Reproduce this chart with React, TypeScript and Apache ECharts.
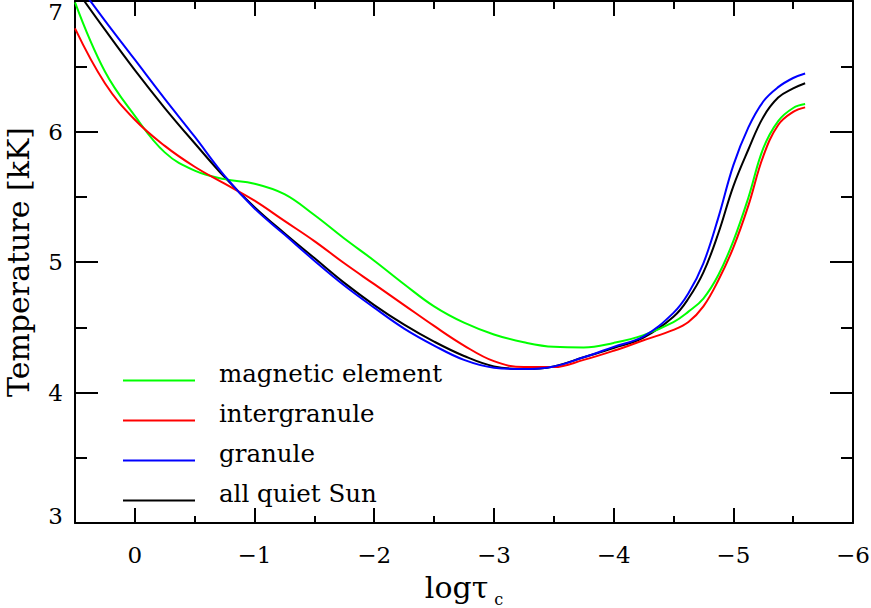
import React, { useEffect, useRef } from 'react';
import * as echarts from 'echarts';

// log tau_c sample positions (x) shared by all curves
const logTau = [0.5, 0.25, 0, -0.25, -0.5, -0.75, -1, -1.25, -1.5, -1.75, -2, -2.25, -2.5, -2.75, -3, -3.25, -3.5, -3.75, -4, -4.25, -4.5, -4.625, -4.75, -4.875, -5, -5.125, -5.25, -5.375, -5.5, -5.6];
// temperature in kK for each model
const magneticElement = [6.99, 6.46, 6.12, 5.84, 5.70, 5.635, 5.60, 5.52, 5.36, 5.18, 5.01, 4.83, 4.66, 4.535, 4.445, 4.385, 4.35, 4.345, 4.38, 4.44, 4.54, 4.62, 4.72, 4.90, 5.16, 5.49, 5.87, 6.08, 6.18, 6.21];
const intergranule = [6.79, 6.37, 6.09, 5.89, 5.73, 5.60, 5.47, 5.315, 5.16, 4.99, 4.83, 4.67, 4.51, 4.36, 4.24, 4.195, 4.195, 4.25, 4.32, 4.40, 4.48, 4.54, 4.66, 4.86, 5.11, 5.43, 5.81, 6.05, 6.15, 6.185];
const granule = [7.16, 6.85, 6.55, 6.25, 5.96, 5.66, 5.41, 5.21, 5.01, 4.82, 4.65, 4.49, 4.36, 4.25, 4.19, 4.18, 4.20, 4.27, 4.35, 4.43, 4.61, 4.76, 4.99, 5.34, 5.74, 6.03, 6.23, 6.34, 6.41, 6.445];
const allQuietSun = [7.10, 6.78, 6.47, 6.18, 5.91, 5.65, 5.42, 5.22, 5.03, 4.84, 4.67, 4.52, 4.39, 4.28, 4.20, 4.18, 4.20, 4.27, 4.34, 4.42, 4.58, 4.72, 4.92, 5.22, 5.58, 5.86, 6.11, 6.26, 6.33, 6.37];

const xMajor = [-6, -5, -4, -3, -2, -1, 0];
const xMinor = [-5.5, -4.5, -3.5, -2.5, -1.5, -0.5];
const yMajor = [3, 4, 5, 6, 7];
const yMinor = [3.5, 4.5, 5.5, 6.5];

const names = ['magnetic element', 'intergranule', 'granule', 'all quiet Sun'];
const colors = ['#00ff00', '#ff0000', '#0000ff', '#000000'];

const FONT = 'DejaVu Serif';

function pairs(a: number[], b: number[]) {
  return a.map((v, i) => [v, b[i]]);
}

export default function App() {
  const ref = useRef<HTMLDivElement>(null);
  useEffect(() => {
    if (!ref.current) return;
    const chart = echarts.init(ref.current, null, { renderer: 'svg' });
    const fmt = (v: number) => (v < 0 ? '\u2212' + Math.abs(v) : String(v));
    const ls = { color: '#000', width: 2 };
    const xBase = { type: 'value', min: -6, max: 0.5, inverse: true, splitLine: { show: false } };
    const yBase = { type: 'value', min: 3, max: 7, splitLine: { show: false } };
    const labelFont = { fontFamily: FONT, fontSize: 23, color: '#000' };
    const legendFont = { fontFamily: FONT, fontSize: 24.5, color: '#000', lineHeight: 24 };
    const seriesData = [
      { name: names[3], color: colors[3], data: pairs(logTau, allQuietSun) },
      { name: names[0], color: colors[0], data: pairs(logTau, magneticElement) },
      { name: names[1], color: colors[1], data: pairs(logTau, intergranule) },
      { name: names[2], color: colors[2], data: pairs(logTau, granule) },
    ];
    const option: any = {
      animation: false,
      grid: { left: 75, right: 18, top: 1, bottom: 85, containLabel: false, outerBoundsMode: 'none' },
      legend: {
        data: names,
        orient: 'vertical',
        left: 123,
        top: 361,
        padding: 0,
        icon: 'rect',
        itemWidth: 72,
        itemHeight: 2,
        itemGap: 1,
        selectedMode: false,
        itemStyle: { borderWidth: 0 },
        formatter: (n: string) => '{a|' + n + '}',
        textStyle: {
          ...legendFont,
          padding: [0, 0, 0, 19],
          rich: { a: { ...legendFont, padding: [0, 0, 14, 0] } },
        },
      },
      xAxis: [
        {
          ...xBase,
          position: 'bottom',
          axisLine: { show: true, onZero: false, lineStyle: ls },
          axisTick: { show: true, inside: true, length: 15, lineStyle: ls, customValues: xMajor },
          axisLabel: { show: true, customValues: xMajor, formatter: fmt, margin: 20, ...labelFont },
          name: 'logτ{sub|c}',
          nameLocation: 'middle',
          nameGap: 44,
          nameTextStyle: {
            fontFamily: FONT,
            fontSize: 30,
            color: '#000',
            rich: { sub: { fontFamily: FONT, fontSize: 16, color: '#000', padding: [24, 0, 0, 6] } },
          },
        },
        {
          ...xBase,
          position: 'bottom',
          axisLine: { show: false, onZero: false },
          axisTick: { show: true, inside: true, length: 7, lineStyle: ls, customValues: xMinor },
          axisLabel: { show: false },
        },
        {
          ...xBase,
          position: 'top',
          axisLine: { show: true, onZero: false, lineStyle: ls },
          axisTick: { show: true, inside: true, length: 15, lineStyle: ls, customValues: xMajor },
          axisLabel: { show: false },
        },
        {
          ...xBase,
          position: 'top',
          axisLine: { show: false, onZero: false },
          axisTick: { show: true, inside: true, length: 8, lineStyle: ls, customValues: xMinor },
          axisLabel: { show: false },
        },
      ],
      yAxis: [
        {
          ...yBase,
          position: 'left',
          axisLine: { show: true, onZero: false, lineStyle: ls },
          axisTick: { show: true, inside: true, length: 23, lineStyle: ls, customValues: yMajor },
          axisLabel: {
            show: true,
            customValues: yMajor,
            margin: 12,
            ...labelFont,
            formatter: (v: number) => (v === 7 ? '{t|7}' : v === 3 ? '{b|3}' : String(v)),
            rich: {
              t: { ...labelFont, padding: [22, 0, 0, 0] },
              b: { ...labelFont, padding: [0, 0, 14, 0] },
            },
          },
          name: 'Temperature [kK]',
          nameLocation: 'middle',
          nameGap: 42,
          nameTextStyle: { fontFamily: FONT, fontSize: 30, color: '#000' },
        },
        {
          ...yBase,
          position: 'left',
          axisLine: { show: false, onZero: false },
          axisTick: { show: true, inside: true, length: 12, lineStyle: ls, customValues: yMinor },
          axisLabel: { show: false },
        },
        {
          ...yBase,
          position: 'right',
          axisLine: { show: true, onZero: false, lineStyle: ls },
          axisTick: { show: true, inside: true, length: 23, lineStyle: ls, customValues: yMajor },
          axisLabel: { show: false },
        },
        {
          ...yBase,
          position: 'right',
          axisLine: { show: false, onZero: false },
          axisTick: { show: true, inside: true, length: 12, lineStyle: ls, customValues: yMinor },
          axisLabel: { show: false },
        },
      ],
      series: seriesData.map((s) => ({
        type: 'line',
        name: s.name,
        xAxisIndex: 0,
        yAxisIndex: 0,
        data: s.data,
        showSymbol: false,
        symbol: 'none',
        smooth: 0.4,
        clip: true,
        color: s.color,
        itemStyle: { color: s.color },
        lineStyle: { color: s.color, width: 2 },
      })),
    };
    chart.setOption(option);
    return () => chart.dispose();
  }, []);
  return (
    <div
      ref={ref}
      style={{ position: 'fixed', left: 0, top: 0, width: 871, height: 608, background: '#fff' }}
    />
  );
}
